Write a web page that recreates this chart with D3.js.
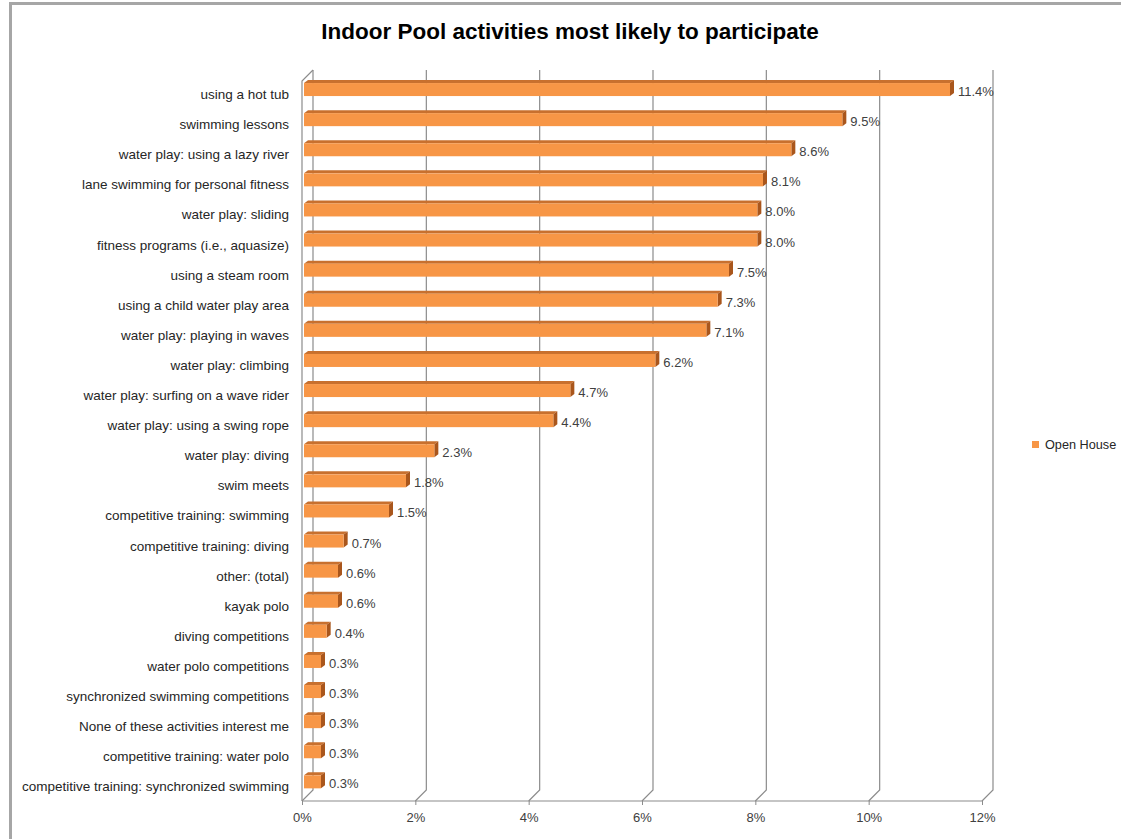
<!DOCTYPE html>
<html><head><meta charset="utf-8">
<script src="https://cdn.jsdelivr.net/npm/d3@7"></script>
<style>body{margin:0;background:#fff;}svg{display:block;font-family:"Liberation Sans",Arial,sans-serif;}</style>
</head><body>
<script>
const categories = ["using a hot tub","swimming lessons","water play: using a lazy river","lane swimming for personal fitness","water play: sliding","fitness programs (i.e., aquasize)","using a steam room","using a child water play area","water play: playing in waves","water play: climbing","water play: surfing on a wave rider","water play: using a swing rope","water play: diving","swim meets","competitive training: swimming","competitive training: diving","other: (total)","kayak polo","diving competitions","water polo competitions","synchronized swimming competitions","None of these activities interest me","competitive training: water polo","competitive training: synchronized swimming"];
const values = [11.4,9.5,8.6,8.1,8.0,8.0,7.5,7.3,7.1,6.2,4.7,4.4,2.3,1.8,1.5,0.7,0.6,0.6,0.4,0.3,0.3,0.3,0.3,0.3];
const ticks = [0,2,4,6,8,10,12];
const seriesName = "Open House";
const title = "Indoor Pool activities most likely to participate";

const W=1121,H=839;
const svg=d3.select("body").append("svg").attr("width",W).attr("height",H);
// frame
svg.append("path").attr("d","M10.5,"+H+" V3.5 H"+W).attr("fill","none").attr("stroke","#a6a6a6").attr("stroke-width",3);

const DX=11, DY=-11; // wall depth
const xf=d3.scaleLinear().domain([0,12]).range([302,982]);
const floorY=801;
const y=d3.scaleBand().domain(categories).range([74,796.4]).padding(0);
const topY=81;

const g=svg.append("g");
// back wall gridlines
ticks.forEach(t=>{
  const x0=xf(t);
  g.append("path").attr("d",`M${x0},${floorY} L${x0+DX},${floorY+DY} V${topY+DY}`)
   .attr("fill","none").attr("stroke","#8c8c8c").attr("stroke-width",1.2);
});
// left wall front edge
g.append("path").attr("d",`M${xf(0)},${floorY} V${topY} L${xf(0)+DX},${topY+DY}`).attr("fill","none").attr("stroke","#8c8c8c").attr("stroke-width",1.2);
// floor front
g.append("line").attr("x1",xf(0)).attr("x2",xf(12)).attr("y1",floorY).attr("y2",floorY).attr("stroke","#8c8c8c").attr("stroke-width",1.2);
// axis ticks and labels
const axis=d3.axisBottom(xf).tickValues(ticks).tickFormat(d=>d+"%").tickSize(4).tickSizeOuter(0);
const ax=svg.append("g").attr("transform",`translate(0,${floorY})`).call(axis);
ax.select(".domain").remove();
ax.selectAll(".tick line").attr("stroke","#8c8c8c");
ax.selectAll(".tick text").attr("font-size",13).attr("fill","#404040").attr("dy","1.1em");

// bars
const bh=13, bdx=4, bdy=-3, off=2;
const bars=svg.append("g");
categories.forEach((c,i)=>{
  const v=values[i];
  const cy=y(c)+y.bandwidth()/2;
  const x0=xf(0)+off, x1=xf(v)+off;
  const yt=cy-6, yb=yt+bh;
  bars.append("path").attr("d",`M${x0},${yt} L${x0+bdx},${yt+bdy} L${x1+bdx},${yt+bdy} L${x1},${yt} Z`).attr("fill","#c8702e");
  bars.append("path").attr("d",`M${x1},${yt} L${x1+bdx},${yt+bdy} L${x1+bdx},${yb+bdy} L${x1},${yb} Z`).attr("fill","#a9561c");
  bars.append("rect").attr("x",x0).attr("y",yt).attr("width",x1-x0).attr("height",bh).attr("fill","#f79646");
  bars.append("text").attr("x",x1+bdx+4).attr("y",cy+7).attr("font-size",13).attr("fill","#404040").text(v.toFixed(1)+"%");
  svg.append("text").attr("x",289).attr("y",cy+10).attr("text-anchor","end").attr("font-size",13.5).attr("fill","#262626").text(c);
});

// title
svg.append("text").attr("x",570).attr("y",39).attr("text-anchor","middle").attr("font-size",22.5).attr("font-weight","bold").attr("fill","#000").text(title);

// legend
svg.append("rect").attr("x",1032).attr("y",441).attr("width",7).attr("height",7).attr("fill","#f79646");
svg.append("text").attr("x",1045).attr("y",449).attr("font-size",12.7).attr("fill","#262626").text(seriesName);
</script>
</body></html>
